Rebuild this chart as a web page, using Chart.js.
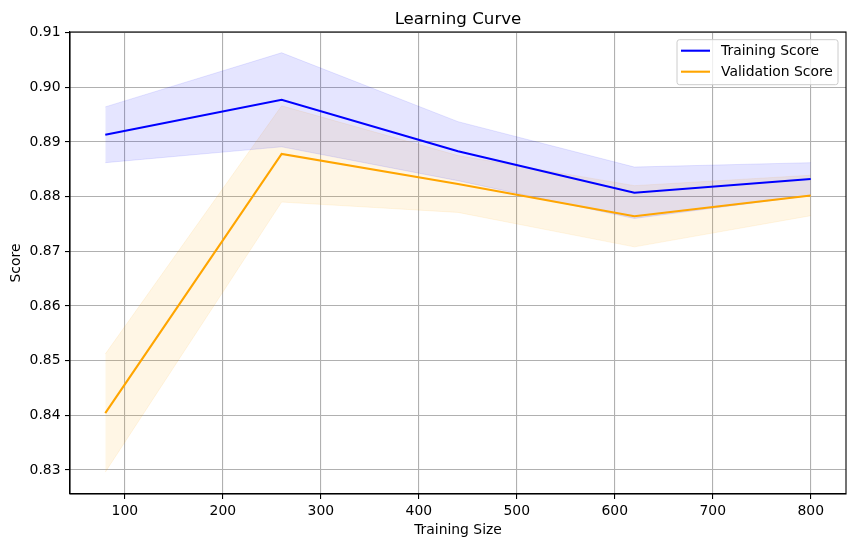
<!DOCTYPE html>
<html>
<head>
<meta charset="utf-8">
<title>Learning Curve</title>
<script src="https://cdn.jsdelivr.net/npm/chart.js@4.4.1/dist/chart.umd.min.js"></script>
<style>
  html, body { margin: 0; padding: 0; background: #fff; }
  #wrap { width: 855px; height: 547px; }
</style>
</head>
<body>
<div id="wrap"><canvas id="chart" width="855" height="547"></canvas></div>
<script>
// values
const trainSizes = [80, 260, 440, 620, 800];
const trainMean = [0.8913, 0.8977, 0.8883, 0.8807, 0.8832];
const trainStd = [0.0051, 0.0086, 0.0054, 0.0047, 0.0030];
const valMean = [0.8404, 0.8878, 0.8823, 0.8764, 0.8802];
const valStd = [0.0108, 0.0088, 0.0052, 0.0056, 0.0037];

const xTicks = [100, 200, 300, 400, 500, 600, 700, 800];
const yTicks = [0.83, 0.84, 0.85, 0.86, 0.87, 0.88, 0.89, 0.90, 0.91];

const FONT = 'DejaVu Sans';
const BLUE = '#0000ff';
const ORANGE = '#ffa500';
const SIZE = 13.9;   // 10pt at 100 dpi

function toPoints(ys) {
    return trainSizes.map((x, i) => ({ x: x, y: ys[i] }));
}

const trainUpper = trainMean.map((m, i) => m + trainStd[i]);
const trainLower = trainMean.map((m, i) => m - trainStd[i]);
const valUpper = valMean.map((m, i) => m + valStd[i]);
const valLower = valMean.map((m, i) => m - valStd[i]);

// frame, title and legend drawn like matplotlib does
const decorations = {
    id: 'decorations',
    afterDraw(chart) {
        const ctx = chart.ctx;
        const a = chart.chartArea;
        ctx.save();

        ctx.strokeStyle = '#000';
        ctx.lineWidth = 1.1;
        ctx.strokeRect(a.left, a.top, a.right - a.left, a.bottom - a.top);

        ctx.fillStyle = '#000';
        ctx.font = '16.67px "' + FONT + '"';
        ctx.textAlign = 'center';
        ctx.textBaseline = 'alphabetic';
        ctx.fillText('Learning Curve', (a.left + a.right) / 2, a.top - 8.3);

        const bw = 161, bh = 45;
        const bx = a.right - 8 - bw, by = a.top + 7.7;
        ctx.beginPath();
        ctx.roundRect(bx, by, bw, bh, 2.5);
        ctx.fillStyle = 'rgba(255,255,255,0.8)';
        ctx.fill();
        ctx.strokeStyle = '#cccccc';
        ctx.lineWidth = 1;
        ctx.stroke();

        const entries = [
            { label: 'Training Score', color: BLUE },
            { label: 'Validation Score', color: ORANGE }
        ];
        ctx.font = SIZE + 'px "' + FONT + '"';
        ctx.textAlign = 'left';
        ctx.textBaseline = 'middle';
        entries.forEach((e, i) => {
            const y = by + 11 + i * 21;
            ctx.strokeStyle = e.color;
            ctx.lineWidth = 2.1;
            ctx.beginPath();
            ctx.moveTo(bx + 4, y);
            ctx.lineTo(bx + 33, y);
            ctx.stroke();
            ctx.fillStyle = '#000';
            ctx.fillText(e.label, bx + 44, y + 1);
        });
        ctx.restore();
    }
};

const bandStyle = (color) => ({
    borderColor: color,
    backgroundColor: color,
    borderWidth: 1,
    pointRadius: 0,
    tension: 0
});

const axisGrid = {
    color: '#b0b0b0',
    lineWidth: 1.1,
    tickLength: 5,
    tickColor: '#000',
    tickWidth: 1.1
};

new Chart(document.getElementById('chart'), {
    type: 'line',
    data: {
        datasets: [
            {
                label: 'Training Score',
                data: toPoints(trainMean),
                borderColor: BLUE,
                borderWidth: 2.1,
                pointRadius: 0,
                fill: false,
                tension: 0
            },
            {
                label: 'Validation Score',
                data: toPoints(valMean),
                borderColor: ORANGE,
                borderWidth: 2.1,
                pointRadius: 0,
                fill: false,
                tension: 0
            },
            Object.assign({ label: 'train upper', data: toPoints(trainUpper), fill: '+1' }, bandStyle('rgba(0,0,255,0.1)')),
            Object.assign({ label: 'train lower', data: toPoints(trainLower), fill: false }, bandStyle('rgba(0,0,255,0.1)')),
            Object.assign({ label: 'val upper', data: toPoints(valUpper), fill: '+1' }, bandStyle('rgba(255,165,0,0.1)')),
            Object.assign({ label: 'val lower', data: toPoints(valLower), fill: false }, bandStyle('rgba(255,165,0,0.1)'))
        ]
    },
    options: {
        responsive: false,
        animation: false,
        layout: { padding: { left: 0, right: 9, top: 32, bottom: 0 } },
        plugins: {
            legend: { display: false },
            tooltip: { enabled: false },
            title: { display: false }
        },
        scales: {
            x: {
                type: 'linear',
                min: 44,
                max: 836,
                afterBuildTicks: s => { s.ticks = xTicks.map(v => ({ value: v })); },
                afterFit: s => { s.height = 53; },
                ticks: {
                    font: { family: FONT, size: SIZE },
                    color: '#000',
                    padding: 4.5,
                    maxRotation: 0,
                    callback: v => String(v)
                },
                grid: axisGrid,
                border: { display: true, color: '#000', width: 1.1 },
                title: {
                    display: true,
                    text: 'Training Size',
                    color: '#000',
                    font: { family: FONT, size: SIZE },
                    padding: { top: 8.7, bottom: 8.7 }
                }
            },
            y: {
                type: 'linear',
                min: 0.8256,
                max: 0.9101,
                afterBuildTicks: s => { s.ticks = yTicks.map(v => ({ value: v })); },
                afterFit: s => { s.width = 70; },
                ticks: {
                    font: { family: FONT, size: SIZE },
                    color: '#000',
                    padding: 4.5,
                    callback: v => v.toFixed(2)
                },
                grid: axisGrid,
                border: { display: true, color: '#000', width: 1.1 },
                title: {
                    display: true,
                    text: 'Score',
                    color: '#000',
                    font: { family: FONT, size: SIZE },
                    padding: { top: 8.2, bottom: 8.2 }
                }
            }
        }
    },
    plugins: [decorations]
});
</script>
</body>
</html>
